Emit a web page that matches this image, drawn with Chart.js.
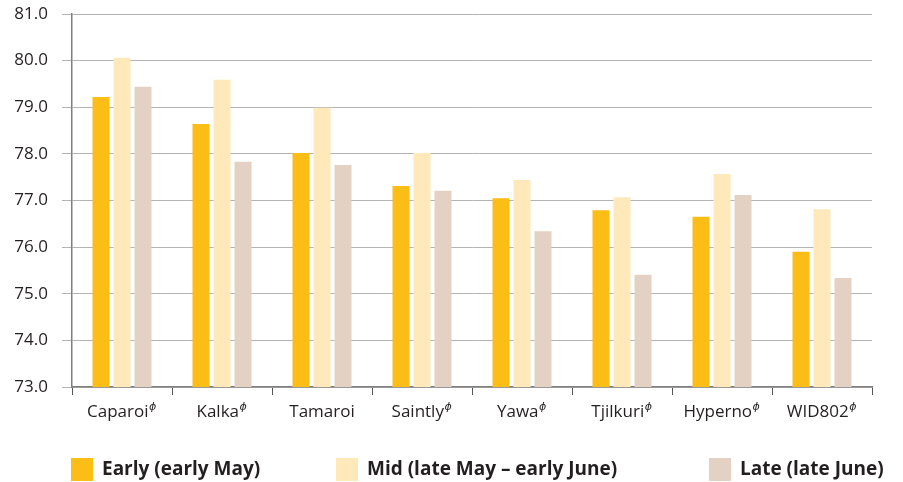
<!DOCTYPE html>
<html>
<head>
<meta charset="utf-8">
<script src="https://cdn.jsdelivr.net/npm/chart.js@4/dist/chart.umd.min.js"></script>
<style>
    html, body { margin: 0; padding: 0; background: #fff; }
    #wrap { width: 903px; height: 482px; position: relative; }
</style>
</head>
<body>
<div id="wrap"><canvas id="chartSowing"></canvas></div>
<script>
// Varieties along the x axis, and whether each carries the PBR mark
const varieties = ['Caparoi', 'Kalka', 'Tamaroi', 'Saintly', 'Yawa', 'Tjilkuri', 'Hyperno', 'WID802'];
const pbrMark   = [true, true, false, true, true, true, true, true];

// Series values, one per sowing time
const earlySowing = [79.22, 78.64, 78.02, 77.31, 77.05, 76.79, 76.65, 75.90];
const midSowing   = [80.06, 79.59, 78.99, 78.02, 77.44, 77.07, 77.57, 76.81];
const lateSowing  = [79.44, 77.83, 77.76, 77.21, 76.34, 75.41, 77.12, 75.34];

const seriesLabels = ['Early (early May)', 'Mid (late May \u2013 early June)', 'Late (late June)'];
const seriesColors = ['#FBBD16', '#FFE8BA', '#E3D2C4'];

const yTicks = [73, 74, 75, 76, 77, 78, 79, 80, 81];

const FONT = '"Open Sans", "DejaVu Sans", sans-serif';
const TEXT_COLOR = '#231f20';
const EN_SPACE = '\u2002';
const LABEL_SIZE = 17;

// Category labels get an en space where the superscript mark is drawn
const xLabels = varieties.map((v, i) => pbrMark[i] ? v + EN_SPACE : v);

/**
 * Draws the small PBR superscript after each marked tick label.
 */
const pbrPlugin = {
    id: 'pbrMark',
    afterDraw(chart) {
        const ctx = chart.ctx;
        const x = chart.scales.x;
        ctx.save();
        ctx.font = LABEL_SIZE + 'px ' + FONT;
        const spaceW = ctx.measureText(EN_SPACE).width;
        const widths = xLabels.map(l => ctx.measureText(l).width);
        ctx.font = 'italic 11px "DejaVu Sans", sans-serif';
        ctx.fillStyle = TEXT_COLOR;
        ctx.textBaseline = 'top';
        ctx.textAlign = 'left';
        xLabels.forEach((l, i) => {
            if (!pbrMark[i]) return;
            const cx = x.getPixelForTick(i);
            ctx.fillText('\u0278', cx + widths[i] / 2 - spaceW + 0.5, x.top + 15);
        });
        ctx.restore();
    },
};

/**
 * Legend spread across the bottom of the canvas.
 */
const legendPlugin = {
    id: 'spreadLegend',
    afterDraw(chart) {
        const ctx = chart.ctx;
        const starts = [71, 336, 709];
        ctx.save();
        ctx.font = 'bold 19px ' + FONT;
        ctx.textBaseline = 'middle';
        ctx.textAlign = 'left';
        chart.data.datasets.forEach((ds, i) => {
            ctx.fillStyle = ds.backgroundColor;
            ctx.fillRect(starts[i], 458, 22, 23);
            ctx.fillStyle = TEXT_COLOR;
            ctx.fillText(ds.label, starts[i] + 31, 470);
        });
        ctx.restore();
    },
};

new Chart(document.getElementById('chartSowing'), {
    type: 'bar',
    data: {
        labels: xLabels,
        datasets: [earlySowing, midSowing, lateSowing].map((data, i) => ({
            label: seriesLabels[i],
            data: data,
            backgroundColor: seriesColors[i],
            borderWidth: 0,
            categoryPercentage: 0.63,
            barPercentage: 0.81,
        })),
    },
    options: {
        responsive: true,
        maintainAspectRatio: false,
        animation: false,
        layout: { padding: { top: 14, right: 31, bottom: 55, left: 0 } },
        plugins: {
            legend: { display: false },
            tooltip: { enabled: false },
        },
        scales: {
            x: {
                grid: {
                    offset: true,
                    drawOnChartArea: false,
                    drawTicks: true,
                    tickLength: 8,
                    color: '#555',
                },
                border: { color: '#7f7f7f', width: 1.5 },
                ticks: {
                    font: { family: FONT, size: LABEL_SIZE },
                    color: TEXT_COLOR,
                    padding: 7,
                    maxRotation: 0,
                },
                afterFit(scale) { scale.height = 40; },
            },
            y: {
                min: yTicks[0],
                max: yTicks[yTicks.length - 1],
                afterBuildTicks(scale) { scale.ticks = yTicks.map(v => ({ value: v })); },
                grid: { color: '#b4b4b4', tickLength: 10, lineWidth: 1 },
                border: { color: '#7f7f7f', width: 1.5 },
                ticks: {
                    font: { family: FONT, size: LABEL_SIZE },
                    color: TEXT_COLOR,
                    padding: 14,
                    callback: v => Number(v).toFixed(1),
                },
                afterFit(scale) {
                    scale.width = 72;
                    scale.paddingTop = 0;
                    scale.paddingBottom = 0;
                },
            },
        },
    },
    plugins: [pbrPlugin, legendPlugin],
});
</script>
</body>
</html>
